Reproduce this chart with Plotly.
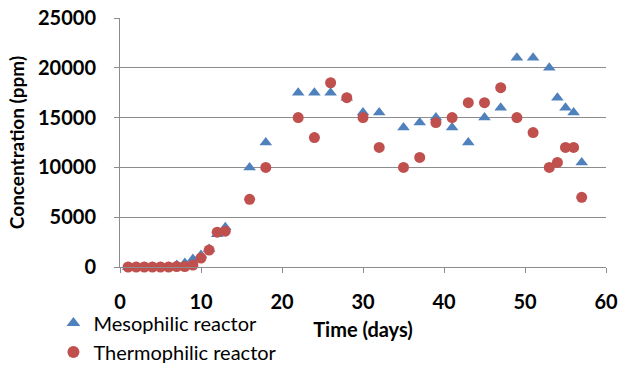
import plotly.graph_objects as go

meso_days = [1, 2, 3, 4, 5, 6, 7, 8, 9, 10, 11, 12, 13, 16, 18, 22, 24, 26, 28, 30, 32,
             35, 37, 39, 41, 43, 45, 47, 49, 51, 53, 54, 55, 56, 57]
meso_vals = [0, 0, 0, 0, 0, 0, 200, 400, 800, 1200, 1800, 3300, 4000, 10000, 12500,
             17500, 17500, 17500, 17000, 15500, 15500, 14000, 14500, 15000, 14000, 12500,
             15000, 16000, 21000, 21000, 20000, 17000, 16000, 15500, 10500]
thermo_days = [1, 2, 3, 4, 5, 6, 7, 8, 9, 10, 11, 12, 13, 16, 18, 22, 24, 26, 28, 30, 32,
               35, 37, 39, 41, 43, 45, 47, 49, 51, 53, 54, 55, 56, 57]
thermo_vals = [0, 0, 0, 0, 0, 0, 50, 50, 200, 900, 1700, 3500, 3600, 6800, 10000,
               15000, 13000, 18500, 17000, 15000, 12000, 10000, 11000, 14500, 15000, 16500,
               16500, 18000, 15000, 13500, 10000, 10500, 12000, 12000, 7000]
x_ticks = [0, 10, 20, 30, 40, 50, 60]
y_ticks = [0, 5000, 10000, 15000, 20000, 25000]
y_tick_text = ["0", "5000", "10000", "15000", "20000", "25000"]

FONT = "Lato, Carlito, 'Liberation Sans', sans-serif"
GRID = "#8c8c8c"

fig = go.Figure()
fig.add_trace(go.Scatter(
    x=meso_days, y=meso_vals, mode="markers", name="Mesophilic reactor",
    marker=dict(symbol="triangle-up", size=11, color="#4F81BD"),
    cliponaxis=False,
))
fig.add_trace(go.Scatter(
    x=thermo_days, y=thermo_vals, mode="markers", name="Thermophilic reactor",
    marker=dict(symbol="circle", size=11, color="#C0504D"),
    cliponaxis=False,
))

fig.update_layout(
    template="none",
    width=619, height=365,
    margin=dict(l=120, r=13, t=18, b=98, autoexpand=False),
    paper_bgcolor="white", plot_bgcolor="white",
    font=dict(family=FONT, color="#000000"),
    showlegend=True,
    legend=dict(
        x=-0.137, y=-0.147, xanchor="left", yanchor="top",
        font=dict(family=FONT, size=20, color="#000"),
        bgcolor="rgba(0,0,0,0)", tracegroupgap=0, itemsizing="constant",
        itemwidth=30,
    ),
    xaxis=dict(
        range=[0, 60], tickvals=x_ticks, ticks="outside", ticklen=5, tickcolor=GRID,
        showline=True, linecolor=GRID, linewidth=1, showgrid=False, zeroline=False,
        automargin=False, ticklabelstandoff=12,
        tickfont=dict(family=FONT, size=20, color="#000", weight="bold"),
        title=dict(text="<b>Time (days)</b>", font=dict(family=FONT, size=20, color="#000"),
                   standoff=10),
    ),
    yaxis=dict(
        range=[0, 25000], tickvals=y_ticks, ticktext=y_tick_text, ticks="outside", ticklen=5,
        tickcolor=GRID, showline=True, linecolor=GRID, linewidth=1, showgrid=True,
        gridcolor=GRID, gridwidth=1, zeroline=False, automargin=False, ticklabelstandoff=14,
        tickfont=dict(family=FONT, size=20, color="#000", weight="bold"),
        title=dict(text="<b>Concentration (ppm)</b>", font=dict(family=FONT, size=19, color="#000"),
                   standoff=8),
    ),
)

fig.write_html("out.html", config={"displayModeBar": False},
               post_script="document.body.style.margin='0';")
